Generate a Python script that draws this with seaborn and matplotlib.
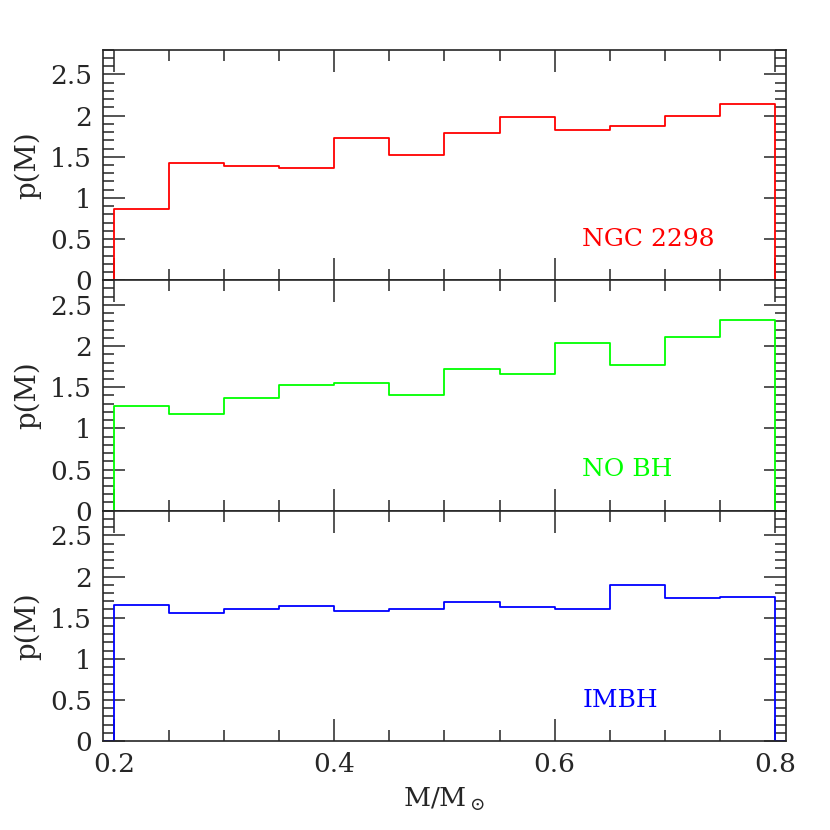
import numpy as np
import pandas as pd
import matplotlib
matplotlib.use('Agg')
import matplotlib.pyplot as plt
from matplotlib.ticker import MultipleLocator
import seaborn as sns

# bin edges (M / Msun) and p(M) per bin
bin_lo = [0.20, 0.25, 0.30, 0.35, 0.40, 0.45, 0.50, 0.55, 0.60, 0.65, 0.70, 0.75]
bin_hi = 0.80

p_ngc2298 = [0.87, 1.43, 1.39, 1.37, 1.73, 1.52, 1.79, 1.98, 1.82, 1.88, 2.00, 2.14]
p_nobh = [1.27, 1.18, 1.37, 1.53, 1.55, 1.41, 1.72, 1.66, 2.04, 1.77, 2.11, 2.32]
p_imbh = [1.66, 1.56, 1.61, 1.64, 1.58, 1.61, 1.69, 1.63, 1.60, 1.90, 1.74, 1.75]

labels = ['NGC 2298', 'NO BH', 'IMBH']
colors = ['#ff0000', '#00ff00', '#0000ff']

sns.set_style('ticks')
plt.rcParams['font.family'] = ['DejaVu Serif']
plt.rcParams['mathtext.fontset'] = 'dejavuserif'
plt.rcParams['xtick.direction'] = 'in'
plt.rcParams['ytick.direction'] = 'in'

fig, axes = plt.subplots(3, 1, figsize=(8.3, 8.3), dpi=100, sharex=True)
fig.subplots_adjust(left=0.124, right=0.947, top=0.94, bottom=0.107, hspace=0)

for ax, vals, lab, col in zip(axes, [p_ngc2298, p_nobh, p_imbh], labels, colors):
    # pad with zero outside the mass range so the step drops to the axis
    xs = [0.185] + bin_lo + [bin_hi, 0.815]
    ys = [0.0] + vals + [0.0, 0.0]
    df = pd.DataFrame({'mass': xs, 'p': ys})
    sns.lineplot(data=df, x='mass', y='p', drawstyle='steps-post', color=col,
                 lw=1.3, estimator=None, ax=ax)
    ax.text(0.625, 0.5, lab, color=col, fontsize=18, va='center', ha='left')

    ax.set_xlim(0.19, 0.81)
    ax.set_ylim(0, 2.8)
    ax.xaxis.set_major_locator(MultipleLocator(0.2))
    ax.xaxis.set_minor_locator(MultipleLocator(0.05))
    ax.yaxis.set_major_locator(MultipleLocator(0.5))
    ax.yaxis.set_minor_locator(MultipleLocator(0.1))
    ax.set_yticks([0, 0.5, 1, 1.5, 2, 2.5])
    ax.set_yticklabels(['0', '0.5', '1', '1.5', '2', '2.5'])
    ax.tick_params(which='both', top=True, right=True, width=1.1, labelsize=19, pad=8)
    ax.tick_params(which='major', length=16)
    ax.tick_params(which='minor', length=8)
    for s in ax.spines.values():
        s.set_linewidth(1.2)
    ax.set_ylabel('p(M)', fontsize=20, labelpad=6)
    ax.set_xlabel('')

axes[-1].set_xticks([0.2, 0.4, 0.6, 0.8])
axes[-1].set_xticklabels(['0.2', '0.4', '0.6', '0.8'])
axes[-1].set_xlabel(r'M/M$_\odot$', fontsize=19, labelpad=6)

plt.savefig('out.png', dpi=100)
